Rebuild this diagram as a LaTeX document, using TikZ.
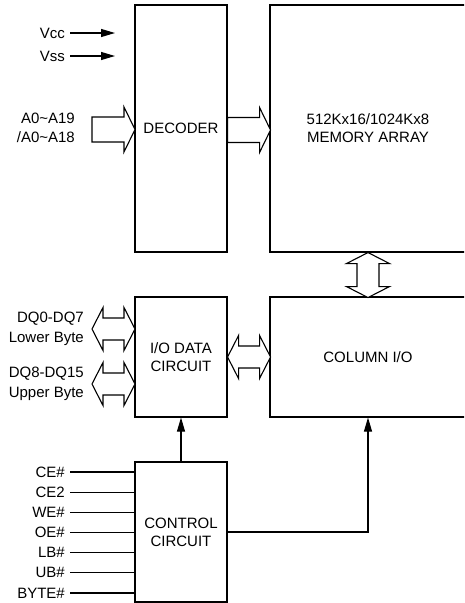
\documentclass[tikz,border=0pt]{standalone}
\usepackage{fontspec}
\setmainfont{Liberation Sans}
\usetikzlibrary{arrows.meta, calc}

\tikzset{
  blk/.style={draw, line width=1.1pt, inner sep=0pt, align=center},
  lbl/.style={anchor=east, inner sep=5pt, align=right},
  sig/.style={line width=1.1pt, -{Triangle[length=14pt, width=8pt]}},
  wire/.style={line width=1.1pt},
  busline/.style={draw, line width=1.1pt, line join=miter, fill=white},
  pics/bus/.style={code={
    \path[busline] (0,-12.5) -- ({#1-11},-12.5) -- ({#1-11},-22.5) -- (#1,0)
      -- ({#1-11},22.5) -- ({#1-11},12.5) -- (0,12.5) -- cycle;
  }},
  pics/bus/.default=43,
  pics/dualbus/.style={code={
    \path[busline] (0,0) -- (11,-21.5) -- (11,-11) -- ({#1-11},-11) -- ({#1-11},-21.5)
      -- (#1,0) -- ({#1-11},21.5) -- ({#1-11},11) -- (11,11) -- (11,21.5) -- cycle;
  }},
  pics/dualbus/.default=43,
}

\begin{document}
\begin{tikzpicture}[x=1pt, y=-1pt, font=\fontsize{15}{18}\selectfont]

  \clip (0,0) rectangle (464,603);

  \node[blk, minimum width=92pt, minimum height=247pt] (dec) at (181,128.5) {DECODER};
  \node[blk, minimum width=196pt, minimum height=247pt] (mem) at (368,128.5)
    {512Kx16/1024Kx8\\MEMORY ARRAY};
  \node[blk, minimum width=92pt, minimum height=120pt] (iod) at (181,357) {I/O DATA\\CIRCUIT};
  \node[blk, minimum width=196pt, minimum height=120pt] (col) at (368,357) {COLUMN I/O};
  \node[blk, minimum width=92pt, minimum height=140pt] (ctl) at (181,532) {CONTROL\\CIRCUIT};

  \node[lbl] (vcc) at (70,33) {Vcc};
  \node[lbl] (vss) at (70,56) {Vss};
  \draw[sig] (vcc.east) -- ++(45,0);
  \draw[sig] (vss.east) -- ++(45,0);

  \node[lbl, inner sep=0pt, font=\fontsize{15}{19}\selectfont] (adrlbl) at (75,127.5)
    {A0\textasciitilde A19\\/A0\textasciitilde A18};
  \coordinate (adr) at (92,129.5);
  \pic at (adr) {bus};
  \pic at ($(dec.east)+(0,1.5)$) {bus};

  \node[lbl, inner sep=0pt, font=\fontsize{15}{20}\selectfont] (lowlbl) at (84,329)
    {DQ0-DQ7\\Lower Byte};
  \node[lbl, inner sep=0pt, font=\fontsize{15}{20}\selectfont] (uplbl) at (84,383.5)
    {DQ8-DQ15\\Upper Byte};
  \coordinate (low) at (92,329);
  \coordinate (up) at (92,384);
  \pic at (low) {dualbus};
  \pic at (up) {dualbus};

  \pic at (iod.east) {dualbus};
  \pic[rotate=-90] at (mem.south) {dualbus=45};

  \foreach \s [count=\i] in {CE\#, CE2, WE\#, OE\#, LB\#, UB\#, BYTE\#} {
    \pgfmathsetmacro{\yy}{472 + (\i-1)*20.17}
    \node[lbl] (in\i) at (70,\yy) {\s};
    \draw[wire] (in\i.east) -- (in\i -| ctl.west);
  }

  \draw[sig] (ctl) -- (iod);
  \draw[sig] (ctl.east) -| (col.south);

\end{tikzpicture}
\end{document}
